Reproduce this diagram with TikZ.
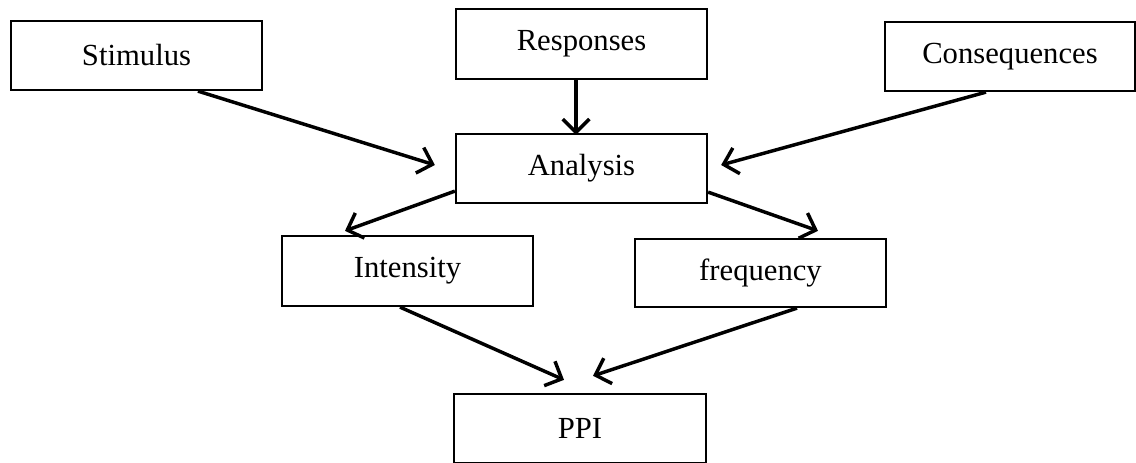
\documentclass[tikz,border=0pt]{standalone}
\usepackage{fontspec}
\setmainfont{Liberation Serif}
\usetikzlibrary{arrows.meta,calc}

\tikzset{every picture/.style={line width=0.75pt}}
\tikzset{
	box/.style={draw, line width=1.7pt, minimum width=251*0.75pt, minimum height=69*0.75pt, inner sep=0pt, font=\fontsize{23}{28}\selectfont},
	link/.style={line width=2.6pt, -{Straight Barb[length=10pt,width=20pt]}}}

\begin{document}
\begin{tikzpicture}[x=0.75pt,y=0.75pt,yscale=-1,xscale=1]
	\useasboundingbox (0,0) rectangle (1136,463);

	% Text Node
	\node[box] (stim) at (136.5,55.5) {Stimulus};
	% Text Node
	\node[box, minimum height=70*0.75pt] (resp) at (581.5,44) {Responses};
	% Text Node
	\node[box, minimum width=250*0.75pt] (cons) at (1010,56.5) {Consequences};
	% Text Node
	\node[box] (ana) at (581.5,168.5) {Analysis};
	% Text Node
	\node[box, minimum height=70*0.75pt] (int) at (407.5,271) {Intensity};
	% Text Node
	\node[box, minimum height=68*0.75pt] (freq) at (760.5,273) {frequency};
	% Text Node
	\node[box, minimum width=252*0.75pt] (ppi) at (580,428.5) {PPI};

	%Straight Lines
	\draw[link] ($(stim.south)+(61.5,0)$) -- ($(ana.west)+(-20,-3.5)$);
	%Straight Lines
	\draw[link] ($(resp.south)+(-5.5,0)$) -- ($(ana.north)+(-5.5,2)$);
	%Straight Lines
	\draw[link] ($(cons.south)+(-24,0)$) -- ($(ana.east)+(13,-3.5)$);
	%Straight Lines
	\draw[link] ($(ana.south west)+(0,-13)$) -- ($(int.north)+(-62.5,-4)$);
	%Straight Lines
	\draw[link] ($(ana.south east)+(0,-12)$) -- ($(freq.north)+(57.5,-7)$);
	%Straight Lines
	\draw[link] ($(int.south)+(-7.5,0)$) -- ($(ppi.north)+(-16,-13)$);
	%Straight Lines
	\draw[link] ($(freq.south)+(36.5,0)$) -- ($(ppi.north)+(13,-17)$);

\end{tikzpicture}
\end{document}
